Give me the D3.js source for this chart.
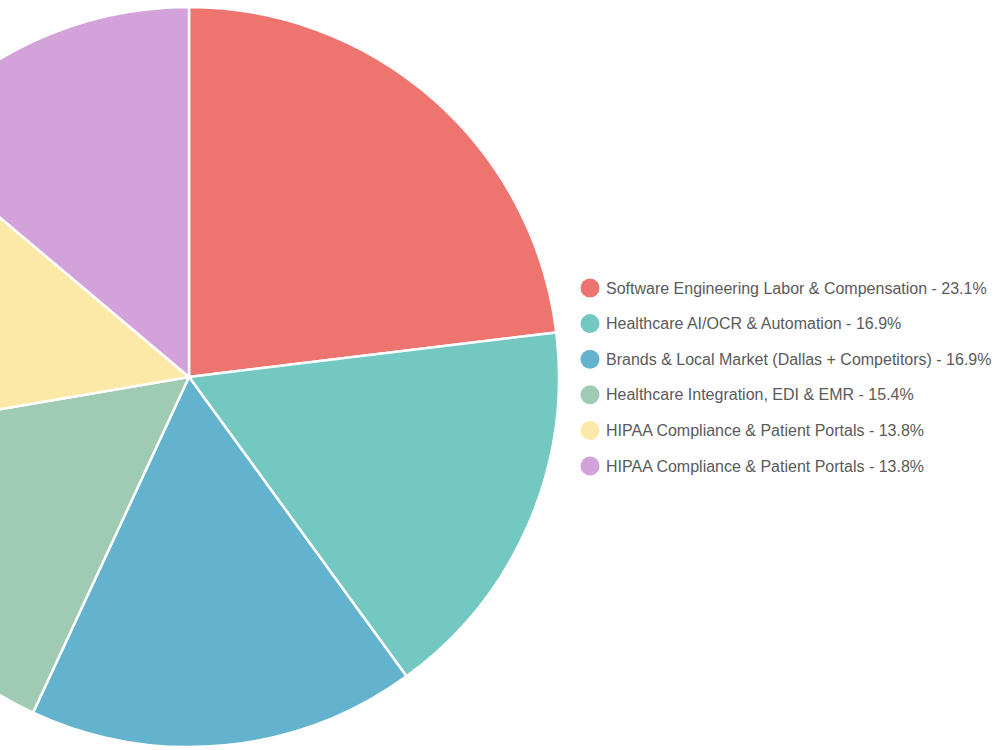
<!DOCTYPE html>
<html lang="en">
<head>
<meta charset="utf-8">
<script src="https://d3js.org/d3.v7.min.js"></script>
<style>
  body { margin: 0; background: #fff; }
</style>
</head>
<body>
<script>
  // Data
  const categories = [
    "Software Engineering Labor & Compensation",
    "Healthcare AI/OCR & Automation",
    "Brands & Local Market (Dallas + Competitors)",
    "Healthcare Integration, EDI & EMR",
    "HIPAA Compliance & Patient Portals",
    "HIPAA Compliance & Patient Portals"
  ];
  const values = [15, 11, 11, 10, 9, 9];
  const colors = ["#ee756f", "#73c9c1", "#63b3ce", "#9fcab3", "#fce9a8", "#d4a2da"];

  const width = 1000, height = 750;
  const cx = 189, cy = 377, radius = 370;

  const total = d3.sum(values);
  const data = values.map((v, i) => ({ i: i, label: categories[i], value: v }));

  const svg = d3.select("body").append("svg")
    .attr("width", width)
    .attr("height", height);

  const pie = d3.pie().value(d => d.value).sort(null);
  const arc = d3.arc().innerRadius(0).outerRadius(radius);

  svg.append("g")
    .attr("transform", `translate(${cx},${cy})`)
    .selectAll("path")
    .data(pie(data))
    .enter().append("path")
    .attr("d", arc)
    .attr("fill", d => colors[d.data.i])
    .attr("stroke", "#fff")
    .attr("stroke-width", 2.5);

  // Legend
  const legendY = d3.scaleLinear().domain([0, data.length - 1]).range([288, 466]);
  const legend = svg.append("g")
    .selectAll("g")
    .data(data)
    .enter().append("g")
    .attr("transform", d => `translate(590,${legendY(d.i)})`);

  legend.append("circle")
    .attr("r", 9.5)
    .attr("fill", d => colors[d.i]);

  legend.append("text")
    .attr("x", 16)
    .attr("dy", "0.35em")
    .attr("font-family", "'Liberation Sans', Arial, sans-serif")
    .attr("font-size", 16)
    .attr("fill", "#5a5a5a")
    .text(d => `${d.label} - ${(d.value / total * 100).toFixed(1)}%`);
</script>
</body>
</html>
